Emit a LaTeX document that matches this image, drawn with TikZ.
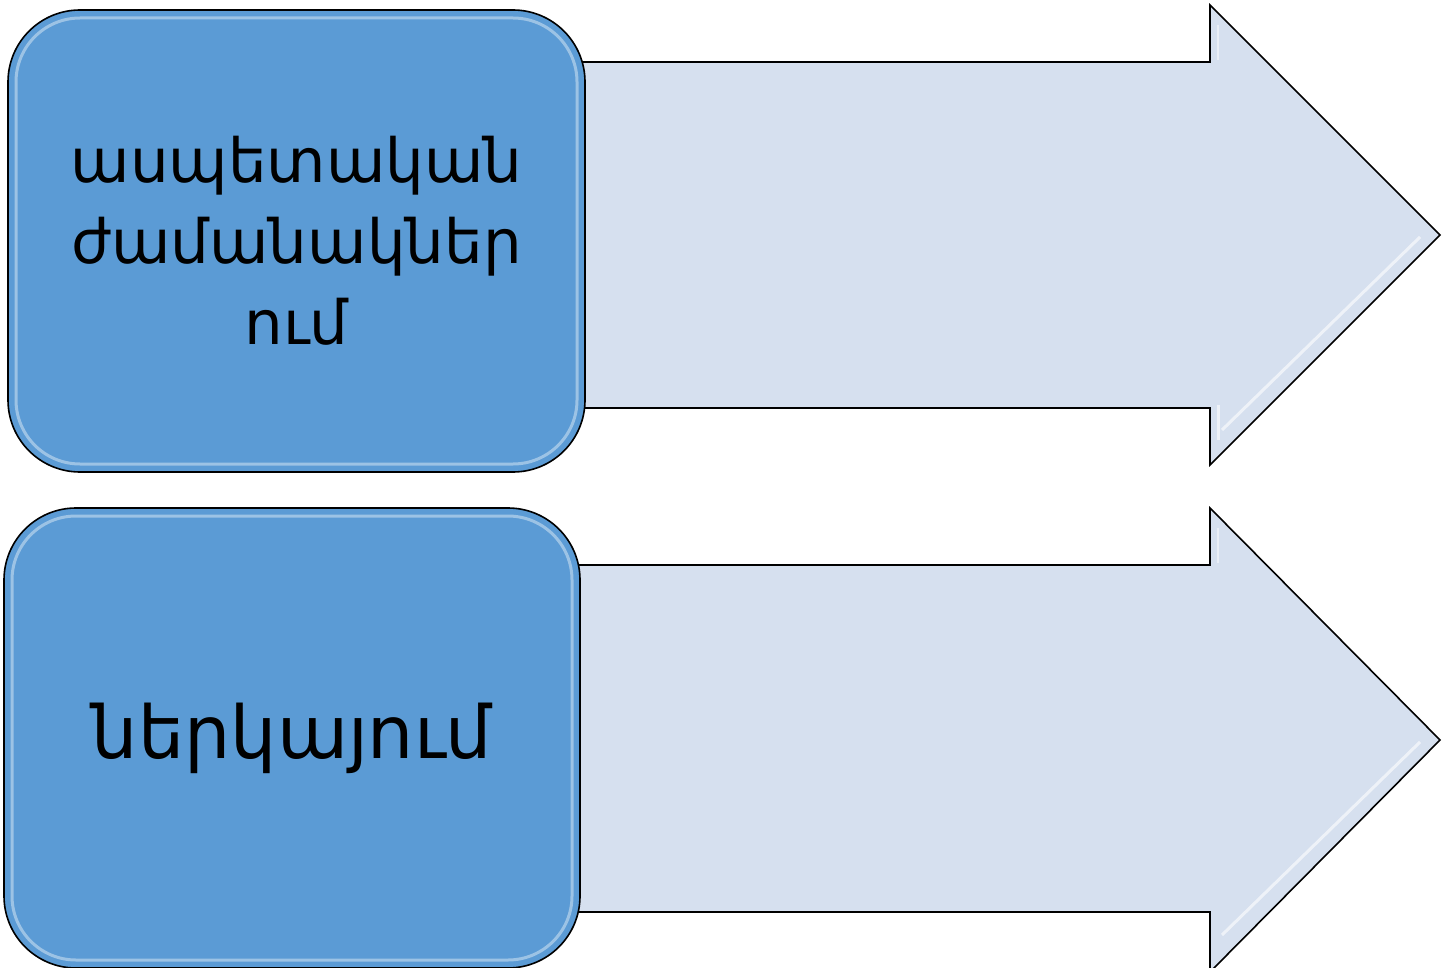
\documentclass[tikz,border=0pt]{standalone}
\usepackage{fontspec}
\newfontfamily\armfont{DejaVu Sans}
\definecolor{boxblue}{RGB}{91,155,213}
\definecolor{arrowfill}{RGB}{214,224,239}
\tikzset{
  arrowshape/.style={fill=arrowfill, draw=black, line width=1.6pt, line join=miter},
  bluebox/.style={rectangle, rounded corners=72pt, fill=boxblue, draw=black, line width=1.6pt,
    align=center, inner sep=0pt},
  shine/.style={draw=white, opacity=0.4, line width=3pt, rounded corners=64pt}
}
\begin{document}
\begin{tikzpicture}[x=1pt,y=-1pt]
\useasboundingbox (0,0) rectangle (1450,968);
\clip (0,0) rectangle (1450,968);
% top arrow
\coordinate (a1s) at (560,62);
\path[arrowshape] (a1s) -- (1210,62) -- (1210,5) -- (1440,235) -- (1210,465) -- (1210,408) -- (560,408) -- cycle;
\draw[white, opacity=0.5, line width=2.5pt] (1218,25) -- (1218,60);
\draw[white, opacity=0.6, line width=3pt] (1218,440) -- (1218,405);
\draw[white, opacity=0.6, line width=3pt] (1222,430) -- (1420,237);
% bottom arrow
\coordinate (a2s) at (555,565);
\path[arrowshape] (a2s) -- (1210,565) -- (1210,508) -- (1440,740) -- (1210,972) -- (1210,912) -- (555,912) -- cycle;
\draw[white, opacity=0.5, line width=2.5pt] (1218,528) -- (1218,563);
\draw[white, opacity=0.6, line width=3pt] (1222,935) -- (1420,742);
% boxes
\node[bluebox, minimum width=577pt, minimum height=462pt,
  font=\armfont\fontsize{61}{81}\selectfont] (b1) at (296.5,241)
  {ասպետական\\ժամանակներ\\ում};
\draw[shine] (16,18) rectangle (577,464);
\node[bluebox, minimum width=576pt, minimum height=460pt,
  font=\armfont\fontsize{73}{81}\selectfont] (b2) at (292,738)
  {ներկայում};
\draw[shine] (12,516) rectangle (572,960);
\end{tikzpicture}
\end{document}
